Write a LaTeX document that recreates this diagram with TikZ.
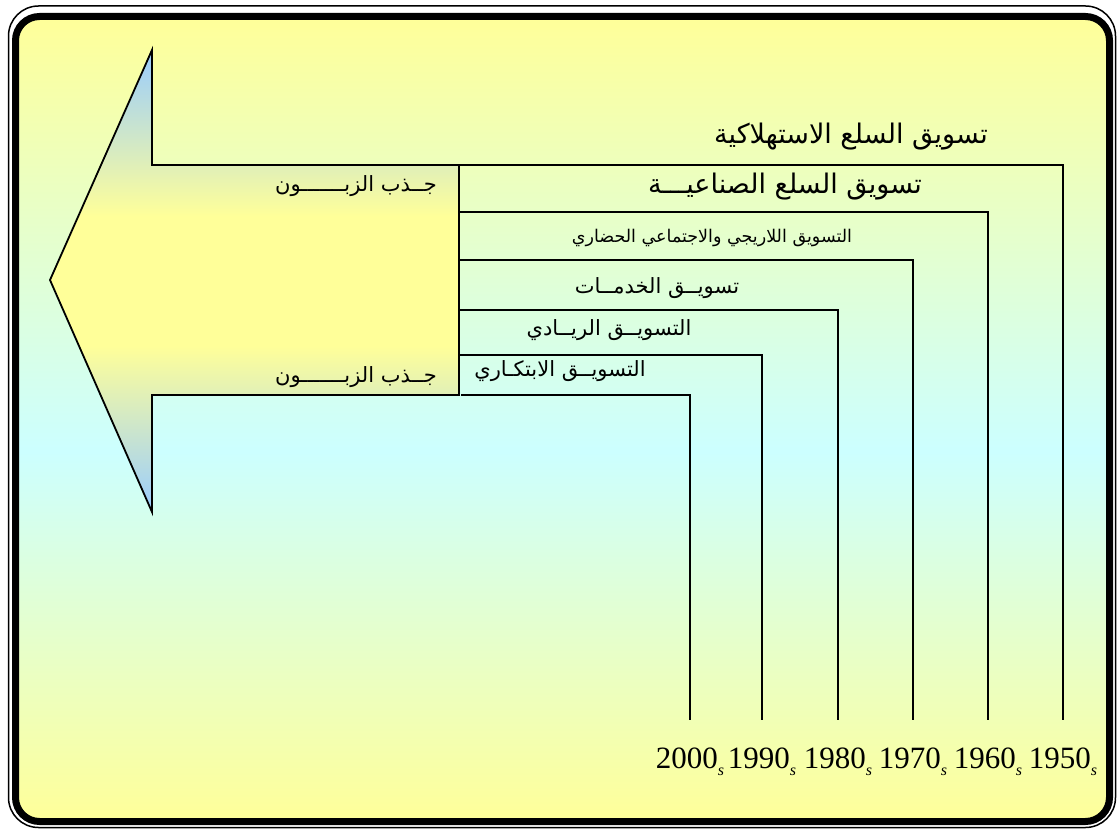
\documentclass[tikz,border=0pt]{standalone}
\usepackage{fontspec}
\setmainfont{Liberation Serif}
\newfontfamily\arabicfont[Script=Arabic]{DejaVu Sans}
\TeXXeTstate=1
\definecolor{bgyellow}{RGB}{255,255,153}
\definecolor{bgcyan}{RGB}{204,255,255}
\definecolor{arrowblue}{RGB}{153,204,255}
\pgfdeclareverticalshading{panelshade}{100bp}{color(0bp)=(bgyellow); color(25bp)=(bgyellow); color(48bp)=(bgcyan); color(75bp)=(bgyellow); color(100bp)=(bgyellow)}
\pgfdeclareverticalshading{arrowshade}{100bp}{color(0bp)=(arrowblue); color(25bp)=(arrowblue); color(43bp)=(bgyellow); color(57bp)=(bgyellow); color(75bp)=(arrowblue); color(100bp)=(arrowblue)}
\newcommand\decs{\raisebox{-7pt}{\fontsize{16}{16}\selectfont\itshape s}}
\tikzset{
  stepline/.style={draw=black, line width=1.6pt},
  arbig/.style={font=\arabicfont\fontsize{27}{31}\selectfont, inner sep=0pt, anchor=base},
  armid/.style={font=\arabicfont\fontsize{17.5}{21}\selectfont, inner sep=0pt, anchor=base},
  arsmall/.style={font=\arabicfont\fontsize{21}{25}\selectfont, inner sep=0pt, anchor=base},
  yearlbl/.style={font=\fontsize{31}{34}\selectfont, inner sep=0pt, anchor=base},
}
\begin{document}
\begin{tikzpicture}[x=1pt,y=-1pt]
\useasboundingbox (0,0) rectangle (1117,829);
% double frame with the shaded panel
\draw[line width=1.5pt, rounded corners=30pt] (8.5,6) rectangle (1115.5,827.5);
\draw[line width=7pt, rounded corners=24pt, shade, shading=panelshade] (15.5,16.5) rectangle (1109.5,821.5);

% big arrow pointing left
\coordinate (tip) at (50,280);
\coordinate (headT) at (152,50);
\coordinate (headB) at (152,512);
\coordinate (shaftTL) at (152,165);
\coordinate (shaftTR) at (459,165);
\coordinate (shaftBR) at (459,395);
\coordinate (shaftBL) at (152,395);
\draw[line width=1.8pt, line join=miter, shade, shading=arrowshade]
  (tip) -- (headT) -- (shaftTL) -- (shaftTR) -- (shaftBR) -- (shaftBL) -- (headB) -- cycle;

% start points on the arrow shaft and foot points on the time axis
\coordinate (s1950) at (459,165);  \coordinate (f1950) at (1063,720);
\coordinate (s1960) at (459,212);  \coordinate (f1960) at (988,720);
\coordinate (s1970) at (459,260);  \coordinate (f1970) at (913,720);
\coordinate (s1980) at (459,310);  \coordinate (f1980) at (838,720);
\coordinate (s1990) at (459,355);  \coordinate (f1990) at (762,720);
\coordinate (s2000) at (461,395);  \coordinate (f2000) at (690,720);

\foreach \d in {1950,1960,1970,1980,1990,2000}{
  \draw[stepline] (s\d) -| (f\d);
  \node[yearlbl] (y\d) at ([yshift=-48pt]f\d) {\d\decs};
}

% stage labels
\node[arbig] (l1950) at (851,144) {\beginR تسويق السلع الاستهلاكية\endR};
\node[arbig] (l1960) at (785,194) {\beginR تسويق السلع الصناعيـــة\endR};
\node[armid] (l1970) at (712,243) {\beginR التسويق اللاريجي والاجتماعي الحضاري\endR};
\node[arsmall] (l1980) at (657,294) {\beginR تسويــق الخدمــات\endR};
\node[arsmall] (l1990) at (609,335) {\beginR التسويــق الريــادي\endR};
\node[arsmall] (l2000) at (560,376) {\beginR التسويــق الابتكـاري\endR};

% labels inside the arrow shaft
\node[arsmall] (pullA) at (356,192) {\beginR جــذب الزبـــــــون\endR};
\node[arsmall] (pullB) at (356,382) {\beginR جــذب الزبـــــــون\endR};
\end{tikzpicture}
\end{document}
